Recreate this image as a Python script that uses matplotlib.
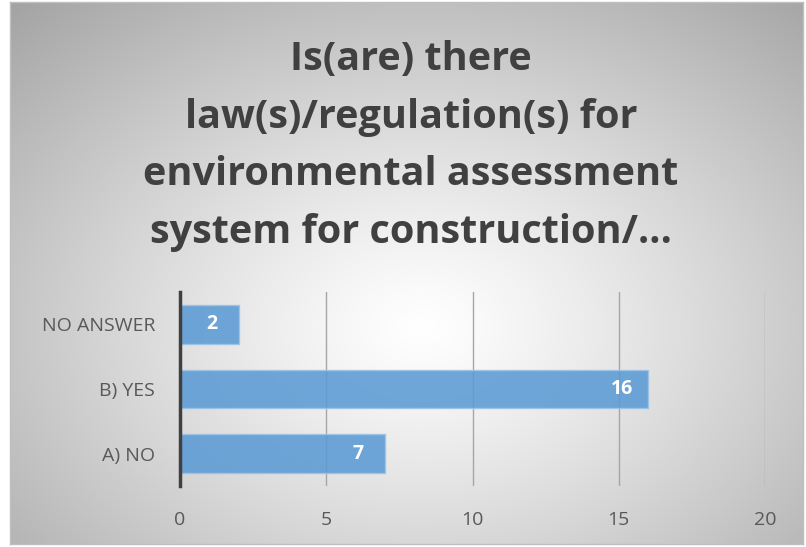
import numpy as np
import matplotlib
matplotlib.use("Agg")
import matplotlib.pyplot as plt

categories = ["A) NO", "B) YES", "NO ANSWER"]
values = [7, 16, 2]
xticks = [0, 5, 10, 15, 20]
title = "Is(are) there\nlaw(s)/regulation(s) for\nenvironmental assessment\nsystem for construction/…"

W, H = 806, 547
fig = plt.figure(figsize=(W / 100, H / 100), dpi=100)
fig.patch.set_facecolor("white")

# gradient background frame
bg = fig.add_axes([10 / W, 3 / H, (803 - 10) / W, (545 - 3) / H])
yy, xx = np.mgrid[0:1:300j, 0:1:440j]
cx, cy = 0.52, 0.4
r = np.sqrt(((xx - cx) / 0.8) ** 2 + ((yy - cy) / 0.85) ** 2)
g = np.clip(1.0 - 0.38 * r ** 1.2, 0, 1)
img = np.dstack([g, g, g])
bg.imshow(img, aspect="auto", extent=[0, 1, 0, 1], origin="lower")
bg.set_xlim(0, 1); bg.set_ylim(0, 1)
for s in bg.spines.values():
    s.set_color("#bfbfbf"); s.set_linewidth(1)
bg.set_xticks([]); bg.set_yticks([])

fig.text(411 / W, 1 - 146 / H, title, ha="center", va="center",
         fontsize=28.5, fontweight="bold", color="#404040", family="Open Sans",
         linespacing=1.62)

x0, x1 = 180, 765
ytop, ybot = 292, 486
ax = fig.add_axes([x0 / W, 1 - ybot / H, (x1 - x0) / W, (ybot - ytop) / H])
ax.patch.set_alpha(0)
ypos = np.arange(len(categories))
ax.barh(ypos, values, height=0.6, color="#5b9bd5", alpha=0.88,
        edgecolor="#9dc3e6", linewidth=1, zorder=2)
for y, v in zip(ypos, values):
    ax.text(v - 0.9, y, str(v), ha="center", va="center", color="white",
            fontsize=14, fontweight="bold", family="Open Sans", zorder=4)
ax.set_xlim(0, 20)
ax.set_ylim(-0.5, 2.5)
ax.set_xticks(xticks)
ax.set_yticks(ypos)
ax.set_yticklabels(categories)
ax.xaxis.grid(True, color="#a6a6a6", linewidth=1, zorder=1)
ax.set_axisbelow(True)
for k in ["top", "right", "bottom"]:
    ax.spines[k].set_visible(False)
ax.spines["left"].set_color("#404040")
ax.spines["left"].set_linewidth(2.5)
ax.spines["left"].set_zorder(5)
ax.tick_params(axis="both", length=0, labelsize=14, labelcolor="#595959")
ax.tick_params(axis="x", pad=18)
ax.tick_params(axis="y", pad=18)
for lab in ax.get_xticklabels() + ax.get_yticklabels():
    lab.set_family("Open Sans")

fig.savefig("out.png", dpi=100)
